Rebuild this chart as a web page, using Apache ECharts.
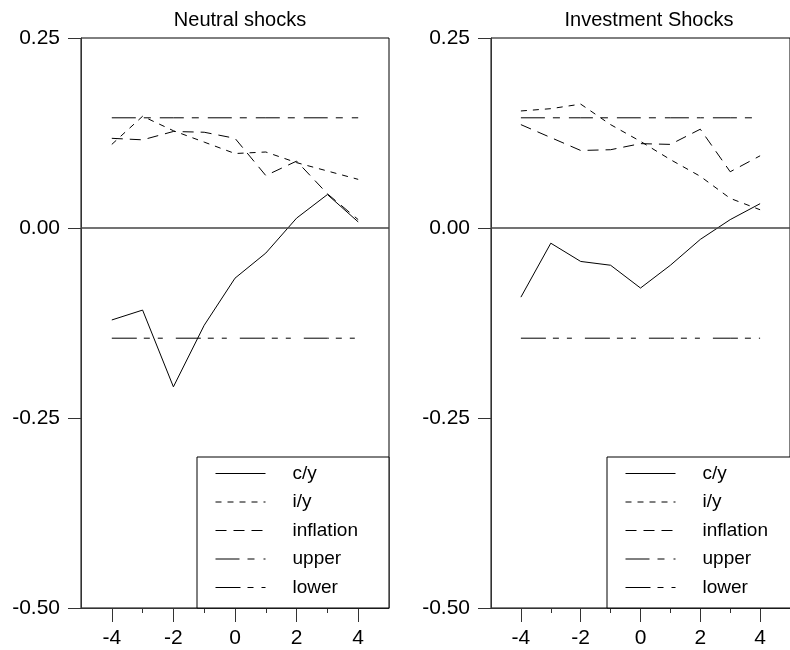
<!DOCTYPE html>
<html>
<head>
<meta charset="utf-8">
<script src="https://cdn.jsdelivr.net/npm/echarts@6/dist/echarts.min.js"></script>
<style>
html,body{margin:0;padding:0;background:#fff;}
#chart{width:790px;height:650px;}
</style>
</head>
<body>
<div id="chart"></div>
<script>
// ---- data ----
const panelTitles = ['Neutral shocks', 'Investment Shocks'];
const seriesNames = ['c/y', 'i/y', 'inflation', 'upper', 'lower'];
const horizons = [-4, -3, -2, -1, 0, 1, 2, 3, 4];
const xMajorTicks = [-4, -2, 0, 2, 4];
const xMinorTicks = [-3, -1, 1, 3];

const neutralCY    = [-0.121, -0.108, -0.209, -0.128, -0.066, -0.033, 0.013, 0.044, 0.008];
const neutralIY    = [0.110, 0.147, 0.128, 0.113, 0.098, 0.100, 0.086, 0.075, 0.064];
const neutralInfl  = [0.118, 0.116, 0.127, 0.126, 0.118, 0.069, 0.088, 0.045, 0.011];
const neutralUpper = [0.145, 0.145, 0.145, 0.145, 0.145, 0.145, 0.145, 0.145, 0.145];
const neutralLower = [-0.145, -0.145, -0.145, -0.145, -0.145, -0.145, -0.145, -0.145, -0.145];

const investCY     = [-0.091, -0.020, -0.044, -0.049, -0.079, -0.049, -0.015, 0.011, 0.032];
const investIY     = [0.154, 0.157, 0.163, 0.136, 0.114, 0.090, 0.068, 0.039, 0.024];
const investInfl   = [0.136, 0.119, 0.102, 0.103, 0.111, 0.110, 0.130, 0.074, 0.095];
const investUpper  = [0.145, 0.145, 0.145, 0.145, 0.145, 0.145, 0.145, 0.145, 0.145];
const investLower  = [-0.145, -0.145, -0.145, -0.145, -0.145, -0.145, -0.145, -0.145, -0.145];

// ---- styles ----
const FONT = 'Liberation Sans, Arial, Helvetica, sans-serif';
const dashTypes = ['solid', [6, 6], [11, 7], [24, 8, 7, 9], [25, 7, 6, 8, 5, 13]];

const panels = [
  { values: [neutralCY, neutralIY, neutralInfl, neutralUpper, neutralLower], left: 81, right: 401, titleX: 235, legendLeft: 197 },
  { values: [investCY, investIY, investInfl, investUpper, investLower], left: 491, right: -5, titleX: 644, legendLeft: 607 }
];

const grids = [], xAxes = [], yAxes = [], series = [], titles = [], legends = [];

panels.forEach((p, i) => {
  grids.push({ left: p.left, right: p.right, top: 38, bottom: 42, show: true, borderColor: '#000', borderWidth: 1, backgroundColor: 'transparent' });
  titles.push({ text: panelTitles[i], left: p.titleX, top: 5, textAlign: 'center',
    textStyle: { fontFamily: FONT, fontSize: 20, fontWeight: 'normal', color: '#000' } });
  // major x axis
  xAxes.push({
    type: 'value', gridIndex: i, min: -5, max: 5, position: 'bottom',
    axisLine: { show: true, onZero: false, lineStyle: { color: '#333', width: 1 } },
    axisTick: { show: true, inside: false, length: 14, customValues: xMajorTicks, lineStyle: { color: '#333' } },
    axisLabel: { show: true, customValues: xMajorTicks, margin: 20, fontFamily: FONT, fontSize: 21, color: '#000' },
    splitLine: { show: false }
  });
  // minor x ticks
  xAxes.push({
    type: 'value', gridIndex: i, min: -5, max: 5, position: 'bottom',
    axisLine: { show: false, onZero: false },
    axisTick: { show: true, length: 5, customValues: xMinorTicks, lineStyle: { color: '#333' } },
    axisLabel: { show: false },
    splitLine: { show: false }
  });
  yAxes.push({
    type: 'value', gridIndex: i, min: -0.5, max: 0.25, interval: 0.25,
    axisLine: { show: true, onZero: false, lineStyle: { color: '#333', width: 1 } },
    axisTick: { show: true, length: 13, lineStyle: { color: '#333' } },
    axisLabel: { margin: 21, fontFamily: FONT, fontSize: 21, color: '#000',
      formatter: v => (Math.abs(v) < 1e-9 ? 0 : v).toFixed(2) },
    splitLine: { show: false }
  });
  p.values.forEach((vals, k) => {
    const s = {
      name: seriesNames[k], type: 'line', xAxisIndex: i * 2, yAxisIndex: i,
      data: horizons.map((h, j) => [h, vals[j]]),
      symbol: 'none', showSymbol: false, smooth: false, animation: false, silent: true,
      lineStyle: { color: '#000', width: 1, type: dashTypes[k] },
      itemStyle: { color: '#000' }
    };
    if (k === 0) {
      s.markLine = {
        silent: true, symbol: 'none', animation: false, label: { show: false },
        lineStyle: { color: '#444', width: 1.6, type: 'solid' },
        data: [{ yAxis: 0 }]
      };
    }
    series.push(s);
  });
  legends.push({
    orient: 'vertical', left: p.legendLeft, top: 457,
    padding: [7, 31, 11, 18], itemGap: 9.5, itemWidth: 50, itemHeight: 14,
    backgroundColor: '#fff', borderColor: '#000', borderWidth: 1, borderRadius: 0,
    selectedMode: false,
    itemStyle: { opacity: 0 },
    lineStyle: { width: 1 },
    data: seriesNames,
    textStyle: { fontFamily: FONT, fontSize: 19, color: '#000', padding: [0, 0, 0, 22] }
  });
});

const chart = echarts.init(document.getElementById('chart'), null, { renderer: 'canvas' });
chart.setOption({
  animation: false,
  backgroundColor: '#fff',
  title: titles,
  legend: legends,
  grid: grids,
  xAxis: xAxes,
  yAxis: yAxes,
  series: series
});
</script>
</body>
</html>
